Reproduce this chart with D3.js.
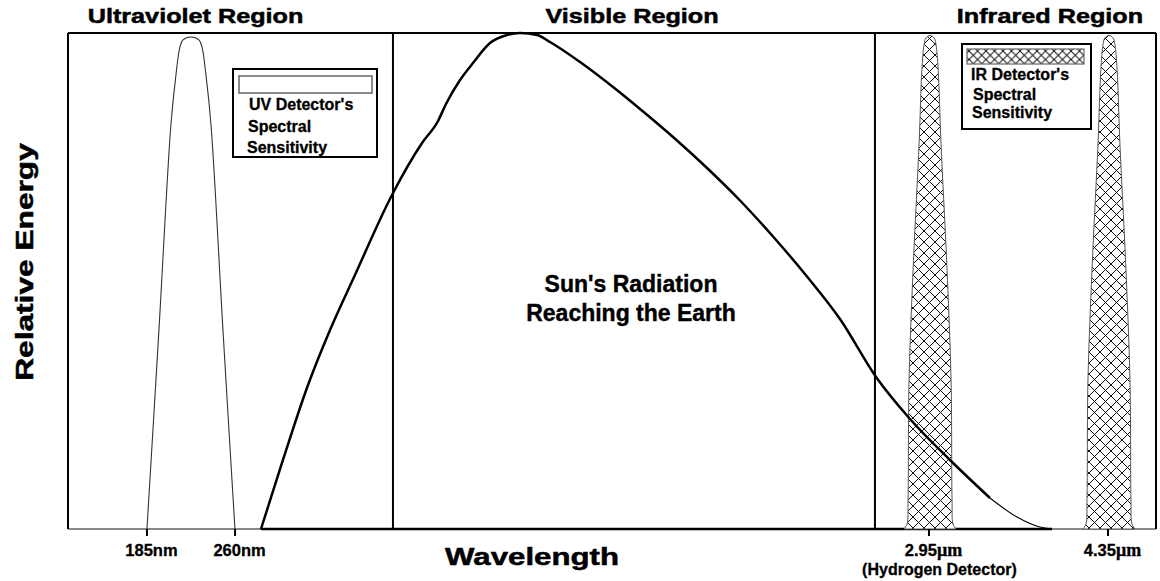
<!DOCTYPE html>
<html><head><meta charset="utf-8">
<script src="https://cdn.jsdelivr.net/npm/d3@7"></script>
<style>body{margin:0;background:#fff} svg{display:block}</style>
</head><body><svg id="c" width="1160" height="581"></svg>
<script>
// ---------- data (relative position 0-100 along wavelength, relative energy 0-100) ----------
const sunX = [17.72, 19.65, 22.04, 24.06, 26.35, 29.75, 32.51, 33.98, 34.71, 36.00, 37.19, 38.75, 40.31, 41.51, 43.07, 44.26, 47.02, 50.05, 52.53, 55.56, 58.68, 61.71, 64.74, 67.86, 70.89, 74.20, 77.32, 80.99, 84.66, 87.14, 89.26, 90.36];
const sunY = [0, 13.31, 29.03, 40.12, 51.21, 67.34, 77.82, 82.26, 85.69, 90.52, 93.95, 97.98, 99.60, 100, 99.60, 98.19, 94.15, 89.11, 84.68, 79.03, 72.78, 66.23, 58.97, 50.91, 42.34, 30.65, 22.18, 13.91, 6.25, 2.42, 0.40, 0];
const sunThinFrom = 28;

const uvCenter = 11.29;
const uvLevels = [0, 40.1, 81.5, 91.5, 97.2, 98.6, 99.2];
const uvHalfWidth = [4.04, 2.94, 1.84, 1.38, 1.01, 0.73, 0];

const irCenters = [79.16, 95.59];
const irLevels = [0, 1.0, 5.9, 30.0, 54.2, 78.0, 92.5, 97.6, 99.0, 99.5];
const irHalfWidth = [2.39, 2.11, 2.02, 1.93, 1.52, 1.0, 0.75, 0.55, 0.38, 0];

const tickPos = [7.25, 15.34, 79.06, 95.50];
const tickNum = ["185", "260", "2.95", "4.35"];
const tickUnit = ["nm", "nm", "μm", "μm"];

const regionBounds = [29.84, 74.10];
const regionTitles = ["Ultraviolet Region", "Visible Region", "Infrared Region"];
const regionTitleX = [11.71, 51.79, 90.17];

// ---------- drawing ----------
const svg = d3.select("#c");
const FONT = "'Liberation Sans', Arial, Helvetica, sans-serif";
const x = d3.scaleLinear().domain([0, 100]).range([68, 1157]);
const y = d3.scaleLinear().domain([0, 100]).range([529, 33]);
const R = 1156, T = 33, B = 529, L = 68;

const defs = svg.append("defs");
function hatch(id, s) {
  const p = defs.append("pattern").attr("id", id).attr("patternUnits", "userSpaceOnUse")
    .attr("width", s).attr("height", s);
  p.append("rect").attr("width", s).attr("height", s).attr("fill", "#fff");
  p.append("path").attr("d", `M0,0L${s},${s}M${s},0L0,${s}`)
    .attr("stroke", "#111").attr("stroke-width", 1);
}
hatch("hatch", 11);
hatch("hatchS", 8.5);

function txt(sel, size, sw) {
  return sel.attr("font-family", FONT).attr("font-weight", "bold").attr("font-size", size)
    .attr("stroke", "#000").attr("stroke-width", sw).attr("fill", "#000");
}

// axis baseline (gray), thick black under sun spectrum
svg.append("line").attr("x1", L).attr("x2", R).attr("y1", B).attr("y2", B)
  .attr("stroke", "#888").attr("stroke-width", 2);
svg.append("line").attr("x1", x(sunX[0])).attr("x2", x(sunX[sunX.length - 1])).attr("y1", B).attr("y2", B)
  .attr("stroke", "#000").attr("stroke-width", 2.5);

// frame
svg.append("line").attr("x1", L).attr("x2", R).attr("y1", T).attr("y2", T).attr("stroke", "#000").attr("stroke-width", 2);
svg.append("line").attr("x1", L).attr("x2", L).attr("y1", T).attr("y2", B).attr("stroke", "#000").attr("stroke-width", 2);
svg.append("line").attr("x1", R).attr("x2", R).attr("y1", T).attr("y2", B).attr("stroke", "#000").attr("stroke-width", 2);

// region dividers
svg.selectAll(".div").data(regionBounds).enter().append("line")
  .attr("x1", d => x(d)).attr("x2", d => x(d)).attr("y1", T).attr("y2", B)
  .attr("stroke", "#000").attr("stroke-width", 2);

// region titles
txt(svg.selectAll(".rt").data(regionTitles).enter().append("text")
  .attr("transform", (d, i) => `translate(${x(regionTitleX[i])},23) scale(1.23,1)`)
  .attr("text-anchor", "middle"), 20.5, 0.5).text(d => d);

// UV peak
const lineC = d3.line().x(d => x(d[0])).y(d => y(d[1])).curve(d3.curveCatmullRom.alpha(0.5));
function peakPts(c, lev, hw) {
  const left = lev.map((v, i) => [c - hw[i], v]);
  const right = lev.slice(0, -1).map((v, i) => [c + hw[i], v]).reverse();
  return left.concat(right);
}
svg.append("path").attr("d", lineC(peakPts(uvCenter, uvLevels, uvHalfWidth)))
  .attr("fill", "none").attr("stroke", "#333").attr("stroke-width", 1.1);

// IR peaks
svg.selectAll(".ir").data(irCenters).enter().append("path")
  .attr("d", c => lineC(peakPts(c, irLevels, irHalfWidth)) + "Z")
  .attr("fill", "url(#hatch)").attr("stroke", "#555").attr("stroke-width", 1);

// sun curve
const sunPts = sunX.map((v, i) => [v, sunY[i]]);
const lineS = d3.line().x(d => x(d[0])).y(d => y(d[1])).curve(d3.curveMonotoneX);
svg.append("path").attr("d", lineS(sunPts.slice(0, sunThinFrom + 1)))
  .attr("fill", "none").attr("stroke", "#000").attr("stroke-width", 2.5).attr("stroke-linejoin", "round");
svg.append("path").attr("d", lineS(sunPts.slice(sunThinFrom)))
  .attr("fill", "none").attr("stroke", "#000").attr("stroke-width", 1.1);

// ticks + labels
svg.selectAll(".tk").data(tickPos).enter().append("line")
  .attr("x1", d => x(d)).attr("x2", d => x(d)).attr("y1", B).attr("y2", B + 7)
  .attr("stroke", "#000").attr("stroke-width", 2);
const tl = txt(svg.selectAll(".tl").data(tickPos).enter().append("text")
  .attr("x", d => x(d) + 4.5).attr("y", 556).attr("text-anchor", "middle"), 16.5, 0.3);
tl.append("tspan").text((d, i) => tickNum[i]);
tl.append("tspan").attr("font-family", (d, i) => tickUnit[i] === "μm" ? "'Liberation Serif', 'Times New Roman', serif" : FONT)
  .attr("font-size", (d, i) => tickUnit[i] === "μm" ? 18 : 16.5)
  .text((d, i) => tickUnit[i]);
txt(svg.append("text").attr("x", x(tickPos[2]) + 10.5).attr("y", 575).attr("text-anchor", "middle"), 16, 0.3)
  .text("(Hydrogen Detector)");

// axis titles
txt(svg.append("text").attr("transform", "translate(532,565) scale(1.3,1)").attr("text-anchor", "middle"), 24, 0.5)
  .text("Wavelength");
txt(svg.append("text").attr("transform", "translate(33,262) rotate(-90) scale(1.32,1)").attr("text-anchor", "middle"), 24, 0.5)
  .text("Relative Energy");

// centre annotation
txt(svg.append("text").attr("x", 631).attr("y", 292).attr("text-anchor", "middle"), 23, 0.4).text("Sun's Radiation");
txt(svg.append("text").attr("x", 631).attr("y", 321).attr("text-anchor", "middle"), 23, 0.4).text("Reaching the Earth");

// UV legend
svg.append("rect").attr("x", 233).attr("y", 69).attr("width", 144).attr("height", 88)
  .attr("fill", "#fff").attr("stroke", "#000").attr("stroke-width", 2);
svg.append("rect").attr("x", 239).attr("y", 76).attr("width", 133).attr("height", 17)
  .attr("fill", "#fff").attr("stroke", "#666").attr("stroke-width", 1.5);
[["UV Detector's", 249, 110], ["Spectral", 248, 132], ["Sensitivity", 247, 153]].forEach(t =>
  txt(svg.append("text").attr("x", t[1]).attr("y", t[2]), 16, 0.3).text(t[0]));

// IR legend
svg.append("rect").attr("x", 962).attr("y", 44).attr("width", 129).attr("height", 85)
  .attr("fill", "#fff").attr("stroke", "#000").attr("stroke-width", 2);
svg.append("rect").attr("x", 967).attr("y", 49).attr("width", 117).attr("height", 15)
  .attr("fill", "url(#hatchS)").attr("stroke", "#666").attr("stroke-width", 1.2);
[["IR Detector's", 971, 80], ["Spectral", 973, 100], ["Sensitivity", 972, 118]].forEach(t =>
  txt(svg.append("text").attr("x", t[1]).attr("y", t[2]), 16, 0.3).text(t[0]));
</script></body></html>
